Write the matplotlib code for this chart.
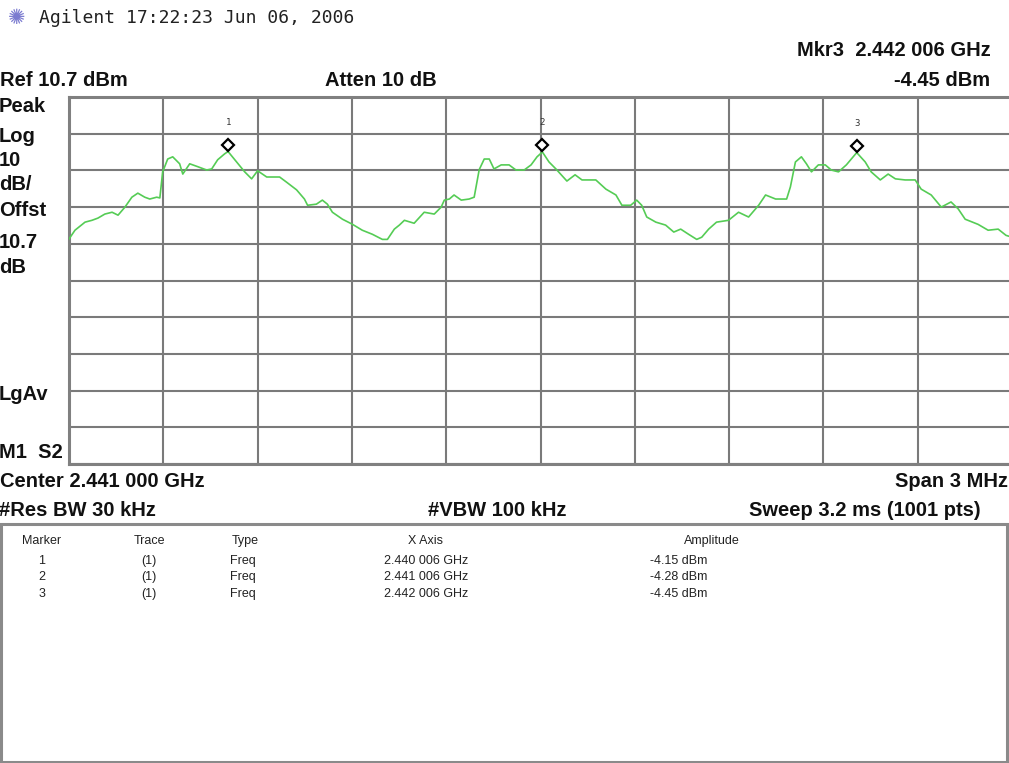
import numpy as np
import matplotlib
matplotlib.use("Agg")
import matplotlib.pyplot as plt
import matplotlib.transforms as mtransforms
from matplotlib.patches import Rectangle

# trace: frequency (MHz) and level (dBm)
freq_mhz = [
    2439.500, 2439.519, 2439.551, 2439.573, 2439.592, 2439.614, 2439.637, 2439.656,
    2439.678, 2439.700, 2439.719, 2439.741, 2439.757, 2439.779, 2439.789, 2439.798,
    2439.814, 2439.830, 2439.852, 2439.862, 2439.884, 2439.910, 2439.938, 2439.954,
    2439.973, 2439.995, 2440.006, 2440.033, 2440.059, 2440.081, 2440.100, 2440.129,
    2440.170, 2440.192, 2440.224, 2440.249, 2440.259, 2440.287, 2440.306, 2440.322,
    2440.338, 2440.370, 2440.402, 2440.433, 2440.465, 2440.497, 2440.513, 2440.535,
    2440.551, 2440.567, 2440.598, 2440.630, 2440.662, 2440.684, 2440.694, 2440.710,
    2440.725, 2440.748, 2440.773, 2440.789, 2440.805, 2440.821, 2440.837, 2440.852,
    2440.875, 2440.900, 2440.922, 2440.948, 2440.970, 2440.989, 2441.006, 2441.027,
    2441.049, 2441.084, 2441.110, 2441.132, 2441.176, 2441.208, 2441.240, 2441.259,
    2441.287, 2441.306, 2441.322, 2441.338, 2441.367, 2441.398, 2441.424, 2441.446,
    2441.471, 2441.497, 2441.513, 2441.535, 2441.560, 2441.598, 2441.630, 2441.662,
    2441.694, 2441.716, 2441.748, 2441.783, 2441.795, 2441.811, 2441.830, 2441.846,
    2441.862, 2441.884, 2441.906, 2441.925, 2441.948, 2441.973, 2442.006, 2442.033,
    2442.052, 2442.081, 2442.106, 2442.129, 2442.160, 2442.192, 2442.211, 2442.243,
    2442.275, 2442.306, 2442.329, 2442.351, 2442.392, 2442.424, 2442.456, 2442.481,
    2442.500,
]
level_dbm = [
    -28.0, -25.6, -23.4, -22.9, -22.3, -21.2, -20.7, -21.5,
    -19.3, -16.6, -15.5, -16.6, -17.1, -16.6, -16.8, -9.7,
    -6.2, -5.6, -7.5, -10.3, -7.5, -8.3, -9.2, -8.9,
    -6.4, -4.8, -4.15, -7.0, -9.7, -11.6, -9.4, -11.1,
    -11.1, -12.5, -14.6, -17.1, -18.8, -18.5, -17.4, -18.5,
    -20.7, -22.6, -24.0, -25.6, -26.7, -28.1, -28.1, -25.3,
    -24.2, -22.9, -23.7, -20.7, -21.2, -19.3, -17.4, -17.1,
    -16.0, -17.4, -17.1, -16.6, -9.1, -6.2, -6.2, -8.9,
    -7.8, -7.8, -9.2, -9.2, -7.8, -5.6, -4.28, -7.0,
    -8.9, -12.2, -10.5, -11.9, -11.9, -14.4, -16.0, -18.8,
    -18.8, -17.4, -18.8, -22.0, -23.4, -24.2, -26.1, -25.3,
    -26.7, -28.1, -27.5, -25.3, -23.4, -22.9, -20.7, -22.0,
    -18.8, -16.0, -17.1, -17.1, -13.8, -7.0, -5.6, -7.5,
    -9.7, -7.8, -7.8, -9.2, -9.7, -7.8, -4.45, -7.0,
    -9.7, -11.9, -10.3, -11.6, -11.9, -11.9, -14.4, -16.0,
    -19.3, -17.9, -19.8, -22.6, -24.0, -25.6, -25.3, -27.0,
    -27.5,
]

# marker table
marker_ids = ["1", "2", "3"]
marker_freq_mhz = [2440.006, 2441.006, 2442.006]
marker_amp_dbm = [-4.15, -4.28, -4.45]
marker_xaxis = ["2.440 006 GHz", "2.441 006 GHz", "2.442 006 GHz"]
marker_amp_txt = ["-4.15 dBm", "-4.28 dBm", "-4.45 dBm"]

ref_level = 10.7
db_per_div = 10
center_mhz = 2441.0
span_mhz = 3.0

W, H = 1009, 763
fig = plt.figure(figsize=(W / 100, H / 100), dpi=100)
fig.patch.set_facecolor("white")


def px(x, y):
    return x / W, 1 - y / H


bold = dict(family=["Liberation Sans", "DejaVu Sans"], weight="bold", size=14.5, color="#111111")

# header
fig.text(*px(17, 18), "\u273a", ha="center", va="center", fontsize=15, color="#7b7bd0")
fig.text(*px(39, 18), "Agilent 17:22:23 Jun 06, 2006", ha="left", va="center",
         fontsize=13, color="#222222", family="DejaVu Sans Mono")
fig.text(*px(991, 50), "Mkr3  2.442 006 GHz", ha="right", va="center", **bold)
fig.text(*px(990, 80), "-4.45 dBm", ha="right", va="center", **bold)
fig.text(*px(0, 80), "Ref 10.7 dBm", ha="left", va="center", **bold)
fig.text(*px(325, 80), "Atten 10 dB", ha="left", va="center", **bold)

# left side labels
for lab, yy in [("Peak", 107), ("Log", 136), ("10", 161), ("dB/", 185), ("Offst", 210),
                ("10.7", 243), ("dB", 268), ("LgAv", 395), ("M1  S2", 452)]:
    fig.text(*px(-1, yy), lab, ha="left", va="center", **bold)

# footer of graticule
fig.text(*px(0, 481), "Center 2.441 000 GHz", ha="left", va="center", **bold)
fig.text(*px(1008, 481), "Span 3 MHz", ha="right", va="center", **bold)
fig.text(*px(-1, 510), "#Res BW 30 kHz", ha="left", va="center", **bold)
fig.text(*px(428, 510), "#VBW 100 kHz", ha="left", va="center", **bold)
fig.text(*px(981, 510), "Sweep 3.2 ms (1001 pts)", ha="right", va="center", **bold)

# graticule
left, right, top, bottom = 69, 1012, 97, 464
ax = fig.add_axes([left / W, 1 - bottom / H, (right - left) / W, (bottom - top) / H])
ax.set_xlim(center_mhz - span_mhz / 2, center_mhz + span_mhz / 2)
ax.set_ylim(ref_level - 10 * db_per_div, ref_level)
ax.set_xticks(np.linspace(center_mhz - span_mhz / 2, center_mhz + span_mhz / 2, 11))
ax.set_yticks(np.arange(ref_level - 10 * db_per_div, ref_level + 1, db_per_div))
ax.grid(True, color="#7a7a7a", lw=1.5)
ax.tick_params(length=0, labelleft=False, labelbottom=False)
for s in ax.spines.values():
    s.set_color("#808080")
    s.set_linewidth(2.2)

ax.plot(freq_mhz, level_dbm, color="#55cc55", lw=1.2, zorder=3)

# markers sit a little above the trace peak
up = mtransforms.offset_copy(ax.transData, fig=fig, x=0, y=5, units="points")
ax.plot(marker_freq_mhz, marker_amp_dbm, ls="none", marker="D", ms=6.5, mfc="white",
        mec="black", mew=1.6, transform=up, zorder=4)
lab_tr = mtransforms.offset_copy(ax.transData, fig=fig, x=0, y=21, units="points")
for mid, f, a in zip(marker_ids, marker_freq_mhz, marker_amp_dbm):
    ax.text(f, a, mid, transform=lab_tr, ha="center", va="center", fontsize=6.5,
            color="#333333", family="DejaVu Sans Mono")

# marker table box
fig.add_artist(Rectangle(px(1, 762), (W - 3) / W, (762 - 524) / H, transform=fig.transFigure,
                         fill=False, ec="#8a8a8a", lw=2.2))

tab = dict(fontsize=9, color="#222222", family=["Liberation Sans", "DejaVu Sans"], va="center")
hdr_y = 541
cols = [("Marker", 42, "center"), ("Trace", 149, "center"), ("Type", 245, "center"),
        ("X Axis", 425, "center"), ("Amplitude", 712, "center")]
for name, xx, ha in cols:
    fig.text(*px(xx, hdr_y), name, ha=ha, **tab)
for i in range(len(marker_ids)):
    yy = 561 + i * 16.3
    fig.text(*px(42, yy), marker_ids[i], ha="center", **tab)
    fig.text(*px(149, yy), "(1)", ha="center", **tab)
    fig.text(*px(230, yy), "Freq", ha="left", **tab)
    fig.text(*px(426, yy), marker_xaxis[i], ha="center", **tab)
    fig.text(*px(650, yy), marker_amp_txt[i], ha="left", **tab)

fig.savefig("out.png", dpi=100, facecolor="white")
